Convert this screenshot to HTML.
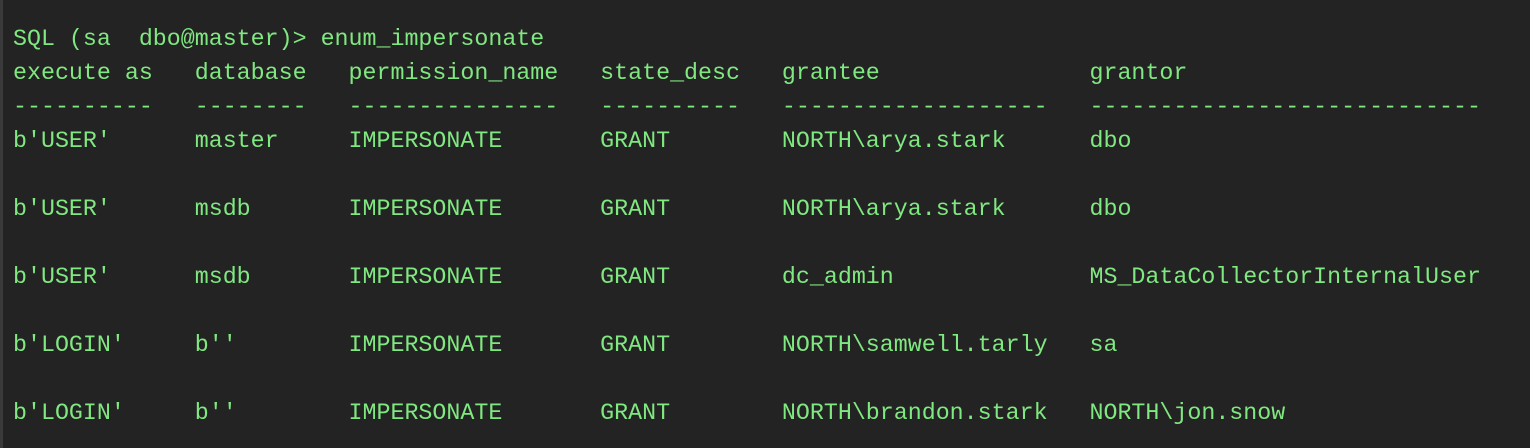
<!DOCTYPE html>
<html><head><meta charset="utf-8"><style>
html,body{margin:0;padding:0;background:#232323;width:1530px;height:448px;overflow:hidden}
pre{position:absolute;left:13px;top:22px;margin:0;font-family:"Liberation Mono",monospace;font-size:23.3px;line-height:34px;color:#80e880;white-space:pre}
.b{position:absolute;left:0;top:0;width:3px;height:448px;background:#3a3a3a}
</style></head><body><div class="b"></div><pre>SQL (sa  dbo@master)> enum_impersonate
execute as   database   permission_name   state_desc   grantee               grantor
----------   --------   ---------------   ----------   -------------------   ----------------------------
b'USER'      master     IMPERSONATE       GRANT        NORTH\arya.stark      dbo

b'USER'      msdb       IMPERSONATE       GRANT        NORTH\arya.stark      dbo

b'USER'      msdb       IMPERSONATE       GRANT        dc_admin              MS_DataCollectorInternalUser

b'LOGIN'     b''        IMPERSONATE       GRANT        NORTH\samwell.tarly   sa

b'LOGIN'     b''        IMPERSONATE       GRANT        NORTH\brandon.stark   NORTH\jon.snow</pre></body></html>
